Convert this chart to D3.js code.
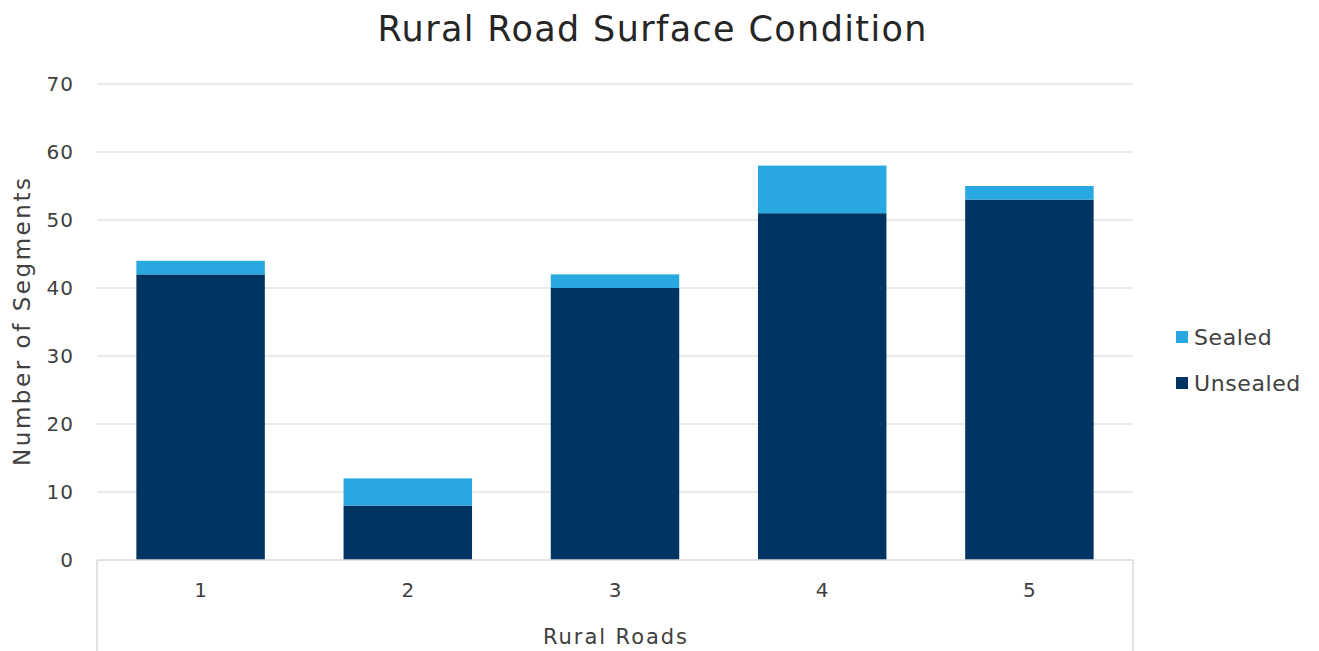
<!DOCTYPE html>
<html>
<head>
<meta charset="utf-8">
<script src="https://cdn.jsdelivr.net/npm/d3@7"></script>
<style>
  html, body { margin: 0; padding: 0; background: #fff; }
  svg { display: block; font-family: "DejaVu Sans", "Open Sans", sans-serif; }
</style>
</head>
<body>
<svg id="chart" width="1319" height="651"></svg>
<script>
// Segment counts per rural road, split by surface type
const roads = ["1", "2", "3", "4", "5"];
const unsealed = [42, 8, 40, 51, 53];
const sealed = [2, 4, 2, 7, 2];
const seriesNames = ["Unsealed", "Sealed"];
const seriesColors = ["#003462", "#27a8e0"];
const yTicks = [0, 10, 20, 30, 40, 50, 60, 70];

const svg = d3.select("#chart");
const W = 1319, H = 651;
const m = { left: 97, right: 1133, top: 84, bottom: 560 };

const table = roads.map((r, i) => ({ road: r, Unsealed: unsealed[i], Sealed: sealed[i] }));
const stacked = d3.stack().keys(seriesNames)(table);

const x = d3.scaleBand().domain(roads).range([m.left, m.right]).paddingInner(0.38).paddingOuter(0.19);
const y = d3.scaleLinear().domain([0, 70]).range([m.bottom, m.top]);
const color = d3.scaleOrdinal().domain(seriesNames).range(seriesColors);

// Title
svg.append("text")
  .attr("x", 652).attr("y", 41)
  .attr("text-anchor", "middle")
  .attr("font-size", 35)
  .attr("textLength", 549)
  .attr("lengthAdjust", "spacing")
  .attr("fill", "#262626")
  .text("Rural Road Surface Condition");

// Horizontal gridlines
svg.append("g")
  .selectAll("line")
  .data(yTicks.filter(d => d > 0))
  .join("line")
  .attr("x1", m.left).attr("x2", m.right)
  .attr("y1", d => y(d)).attr("y2", d => y(d))
  .attr("stroke", "#e3e3e3").attr("stroke-width", 1.5);

// Y axis labels
const yAxis = d3.axisLeft(y).tickValues(yTicks).tickSize(0).tickPadding(0);
svg.append("g")
  .attr("transform", `translate(${m.left - 23},0)`)
  .call(yAxis)
  .call(g => g.select(".domain").remove())
  .call(g => g.selectAll("text")
    .attr("font-size", 20)
    .attr("letter-spacing", 1)
    .attr("fill", "#404040")
    .attr("font-family", "DejaVu Sans, sans-serif"));

// Stacked bars
svg.append("g")
  .selectAll("g")
  .data(stacked)
  .join("g")
  .attr("fill", d => color(d.key))
  .selectAll("rect")
  .data(d => d)
  .join("rect")
  .attr("x", d => x(d.data.road))
  .attr("width", x.bandwidth())
  .attr("y", d => y(d[1]))
  .attr("height", d => y(d[0]) - y(d[1]));

// Category axis box
const box = svg.append("g").attr("stroke", "#d9d9d9").attr("stroke-width", 1.5).attr("fill", "none");
box.append("line").attr("x1", m.left).attr("x2", m.right).attr("y1", m.bottom).attr("y2", m.bottom);
box.append("line").attr("x1", m.left).attr("x2", m.left).attr("y1", m.bottom).attr("y2", H);
box.append("line").attr("x1", m.right).attr("x2", m.right).attr("y1", m.bottom).attr("y2", H);

// X axis labels
const xAxis = d3.axisBottom(x).tickSize(0).tickPadding(0);
svg.append("g")
  .attr("transform", `translate(0,${m.bottom + 23})`)
  .call(xAxis)
  .call(g => g.select(".domain").remove())
  .call(g => g.selectAll("text")
    .attr("font-size", 20)
    .attr("fill", "#404040")
    .attr("font-family", "DejaVu Sans, sans-serif"));

// Axis titles
svg.append("text")
  .attr("x", (m.left + m.right) / 2).attr("y", 644)
  .attr("text-anchor", "middle")
  .attr("font-size", 21)
  .attr("textLength", 144)
  .attr("lengthAdjust", "spacing")
  .attr("fill", "#404040")
  .text("Rural Roads");

svg.append("text")
  .attr("transform", `translate(30,${(m.top + m.bottom) / 2}) rotate(-90)`)
  .attr("text-anchor", "middle")
  .attr("font-size", 23)
  .attr("textLength", 288)
  .attr("lengthAdjust", "spacing")
  .attr("fill", "#404040")
  .text("Number of Segments");

// Legend
const legend = svg.append("g")
  .selectAll("g")
  .data(["Sealed", "Unsealed"])
  .join("g")
  .attr("transform", (d, i) => `translate(1176,${337 + i * 46})`);
legend.append("rect")
  .attr("x", 0).attr("y", -6).attr("width", 12).attr("height", 12)
  .attr("fill", d => color(d));
legend.append("text")
  .attr("x", 18).attr("y", 0)
  .attr("dy", "0.36em")
  .attr("font-size", 22)
  .attr("letter-spacing", 0.6)
  .attr("fill", "#404040")
  .text(d => d);
</script>
</body>
</html>
